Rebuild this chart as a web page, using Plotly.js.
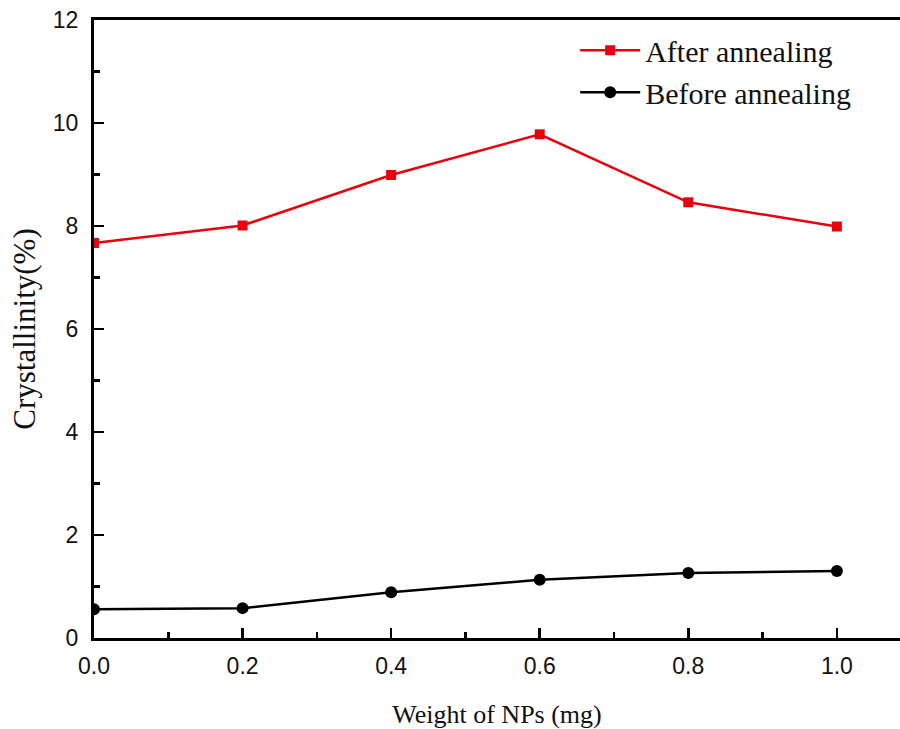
<!DOCTYPE html>
<html><head><meta charset="utf-8">
<script src="https://cdn.plot.ly/plotly-3.0.1.min.js"></script>
<style>html,body{margin:0;padding:0;background:#fff}#chart{width:900px;height:729px}</style>
</head><body><div id="chart"></div>
<script>
const weights = [0.0, 0.2, 0.4, 0.6, 0.8, 1.0];
const afterAnnealing = [7.67, 8.01, 8.99, 9.78, 8.46, 7.99];
const beforeAnnealing = [0.56, 0.58, 0.89, 1.13, 1.26, 1.30];
const xTicks = [0, 0.2, 0.4, 0.6, 0.8, 1.0];
const xTickLabels = ["0.0", "0.2", "0.4", "0.6", "0.8", "1.0"];
const yTicks = [0, 2, 4, 6, 8, 10, 12];

const traces = [
  {x: weights, y: afterAnnealing, name: "After annealing", mode: "lines+markers",
   line: {color: "#e8000b", width: 2.5}, marker: {symbol: "square", size: 10, color: "#e8000b"}},
  {x: weights, y: beforeAnnealing, name: "Before annealing", mode: "lines+markers",
   line: {color: "#000000", width: 2.5}, marker: {symbol: "circle", size: 12, color: "#000000"}}
];
const layout = {
  width: 900, height: 729,
  margin: {l: 94, r: 0, t: 20, b: 91},
  paper_bgcolor: "#fff", plot_bgcolor: "#fff",
  showlegend: true,
  legend: {x: 0.597, y: 0.993, xanchor: "left", yanchor: "top", itemwidth: 60,
           font: {family: "Liberation Serif, Times New Roman, serif", size: 30, color: "#111"},
           bgcolor: "rgba(0,0,0,0)", tracegroupgap: 0},
  xaxis: {range: [0, 1.085], tickvals: xTicks, ticktext: xTickLabels,
          ticks: "inside", ticklen: 10, tickwidth: 2.5, tickcolor: "#000",
          minor: {dtick: 0.1, ticks: "inside", ticklen: 6, tickwidth: 2.5, tickcolor: "#000"},
          showline: true, linewidth: 3, linecolor: "#000", mirror: true,
          showgrid: false, zeroline: false,
          tickfont: {family: "Liberation Sans, Arial, sans-serif", size: 23, color: "#111"},
          ticklabelstandoff: 5,
          title: {text: "Weight of NPs (mg)", standoff: 30,
                  font: {family: "Liberation Serif, Times New Roman, serif", size: 26, color: "#111"}}},
  yaxis: {range: [0, 12], tickvals: yTicks,
          ticks: "inside", ticklen: 10, tickwidth: 2.5, tickcolor: "#000",
          minor: {dtick: 1, ticks: "inside", ticklen: 6, tickwidth: 2.5, tickcolor: "#000"},
          showline: true, linewidth: 3, linecolor: "#000", mirror: false,
          showgrid: false, zeroline: false,
          tickfont: {family: "Liberation Sans, Arial, sans-serif", size: 23, color: "#111"},
          ticklabelstandoff: 8,
          title: {text: "Crystallinity(%)", standoff: 8,
                  font: {family: "Liberation Serif, Times New Roman, serif", size: 31, color: "#111"}}}
};
Plotly.newPlot("chart", traces, layout, {displayModeBar: false, staticPlot: true});
</script></body></html>
